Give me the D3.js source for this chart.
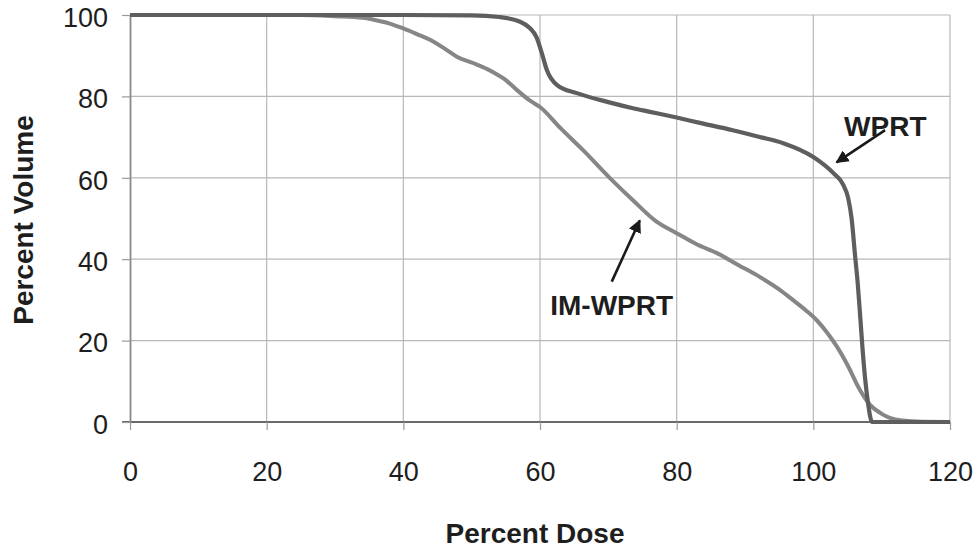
<!DOCTYPE html>
<html>
<head>
<meta charset="utf-8">
<script src="https://cdn.jsdelivr.net/npm/d3@7/dist/d3.min.js"></script>
<style>
  html, body { margin: 0; padding: 0; background: #fff; }
  svg { display: block; font-family: "Liberation Sans", Arial, sans-serif; }
</style>
</head>
<body>
<svg id="chart" width="978" height="549"></svg>
<script>
// Dose-volume histogram: percent of volume receiving at least a given percent dose
const xTicks = [0, 20, 40, 60, 80, 100, 120];
const yTicks = [0, 20, 40, 60, 80, 100];

const wprtDose = [0, 40, 50, 54, 57, 58.5, 59.5, 60.2, 61, 62.5, 65.4, 70, 73.6, 76.1, 80, 83.4, 88.2, 92, 95.6, 100, 102.9, 104.3, 105.1, 105.6, 106.1, 106.5, 106.9, 107.2, 107.6, 108, 108.6, 120];
const wprtVol  = [100, 100, 99.9, 99.5, 98.4, 96.8, 94.5, 91, 86.5, 82.8, 80.8, 78.6, 77.1, 76.2, 74.8, 73.5, 71.7, 70.1, 68.5, 65.1, 61.2, 58.5, 55, 50, 41, 34, 25, 18, 10.3, 4.7, 0, 0];

const imDose = [0, 25, 30, 34, 36, 38, 40, 42, 43.9, 46, 47.9, 50.2, 53.1, 55, 56.6, 58.5, 60, 63, 66.3, 70.2, 73.6, 77, 80, 83, 85.9, 89, 92.2, 95, 97, 99, 100.5, 102, 103.5, 105, 106.8, 108.3, 110, 111.2, 113, 116, 120];
const imVol  = [100, 100, 99.7, 99.3, 98.7, 97.9, 96.7, 95.3, 93.9, 91.8, 89.7, 88.2, 86, 84, 81.6, 79, 77.4, 72.2, 66.8, 60, 54.5, 49.3, 46.4, 43.6, 41.5, 38.6, 35.6, 32.6, 30, 27.3, 25, 22, 18.4, 14, 7.9, 4.2, 2, 1, 0.35, 0.05, 0];

const seriesNames = ["WPRT", "IM-WPRT"];

const svg = d3.select("#chart");
const plotLeft = 130, plotRight = 950, plotTop = 15, plotBottom = 422;

const x = d3.scaleLinear().domain([0, 120]).range([plotLeft, plotRight]);
const y = d3.scaleLinear().domain([0, 100]).range([plotBottom, plotTop]);

// grid
const grid = svg.append("g").attr("stroke", "#b8b8b8").attr("stroke-width", 1.2);
grid.selectAll("line.v").data(xTicks.filter(d => d > 0)).join("line")
  .attr("x1", d => x(d)).attr("x2", d => x(d))
  .attr("y1", plotTop).attr("y2", plotBottom);
grid.selectAll("line.h").data(yTicks.filter(d => d > 0)).join("line")
  .attr("x1", plotLeft).attr("x2", plotRight)
  .attr("y1", d => y(d)).attr("y2", d => y(d));

// axes
const xAxis = svg.append("g")
  .attr("transform", `translate(0,${plotBottom})`)
  .call(d3.axisBottom(x).tickValues(xTicks).tickSize(8).tickSizeOuter(0).tickPadding(32));
const yAxis = svg.append("g")
  .attr("transform", `translate(${plotLeft},0)`)
  .call(d3.axisLeft(y).tickValues(yTicks).tickSize(8).tickSizeOuter(0).tickPadding(14));

xAxis.select(".domain").attr("stroke", "#6a6a6a").attr("stroke-width", 2).attr("d", `M${plotLeft - 8},0H${plotRight}`);
yAxis.select(".domain").attr("stroke", "#8a8a8a").attr("stroke-width", 1.8);
svg.selectAll(".tick line").attr("stroke", "#9a9a9a").attr("stroke-width", 1.2);
svg.selectAll(".tick text")
  .attr("font-size", 27).attr("fill", "#1e1e1e")
  .attr("font-family", "'Liberation Sans', Arial, sans-serif");
yAxis.selectAll(".tick text").attr("dy", "0.42em");

// curves
const line = d3.line().x(d => x(d[0])).y(d => y(d[1])).curve(d3.curveMonotoneX);
const imData = d3.zip(imDose, imVol);
const wprtData = d3.zip(wprtDose, wprtVol);

svg.append("path").datum(imData)
  .attr("fill", "none").attr("stroke", "#868686").attr("stroke-width", 4)
  .attr("stroke-linejoin", "round").attr("d", line);
svg.append("path").datum(wprtData)
  .attr("fill", "none").attr("stroke", "#5e5e5e").attr("stroke-width", 4.2)
  .attr("stroke-linejoin", "round").attr("d", line);

// annotations
svg.append("defs").append("marker")
  .attr("id", "head").attr("viewBox", "0 0 10 10")
  .attr("refX", 9).attr("refY", 5)
  .attr("markerWidth", 5).attr("markerHeight", 5)
  .attr("orient", "auto")
  .append("path").attr("d", "M0,0L10,5L0,10Z").attr("fill", "#1a1a1a");

const labelFont = { size: 28, weight: "bold", fill: "#1e1e1e" };

svg.append("text").text(seriesNames[0])
  .attr("x", x(104.5)).attr("y", y(70.2))
  .attr("font-size", labelFont.size).attr("font-weight", labelFont.weight).attr("fill", labelFont.fill);
svg.append("line")
  .attr("x1", x(110.5)).attr("y1", y(71.7))
  .attr("x2", x(103.4)).attr("y2", y(63.8))
  .attr("stroke", "#1a1a1a").attr("stroke-width", 2.6).attr("marker-end", "url(#head)");

svg.append("text").text(seriesNames[1])
  .attr("x", x(61.5)).attr("y", y(26.3))
  .attr("font-size", labelFont.size).attr("font-weight", labelFont.weight).attr("fill", labelFont.fill);
svg.append("line")
  .attr("x1", x(70.5)).attr("y1", y(34.5))
  .attr("x2", x(74.6)).attr("y2", y(49.5))
  .attr("stroke", "#1a1a1a").attr("stroke-width", 2.6).attr("marker-end", "url(#head)");

// axis titles
svg.append("text").text("Percent Dose")
  .attr("x", (plotLeft + plotRight) / 2 - 5).attr("y", 543)
  .attr("text-anchor", "middle")
  .attr("font-size", 28).attr("font-weight", "bold").attr("fill", "#1e1e1e");
svg.append("text").text("Percent Volume")
  .attr("transform", "translate(33,220) rotate(-90)")
  .attr("text-anchor", "middle")
  .attr("font-size", 28).attr("font-weight", "bold").attr("fill", "#1e1e1e");
</script>
</body>
</html>
